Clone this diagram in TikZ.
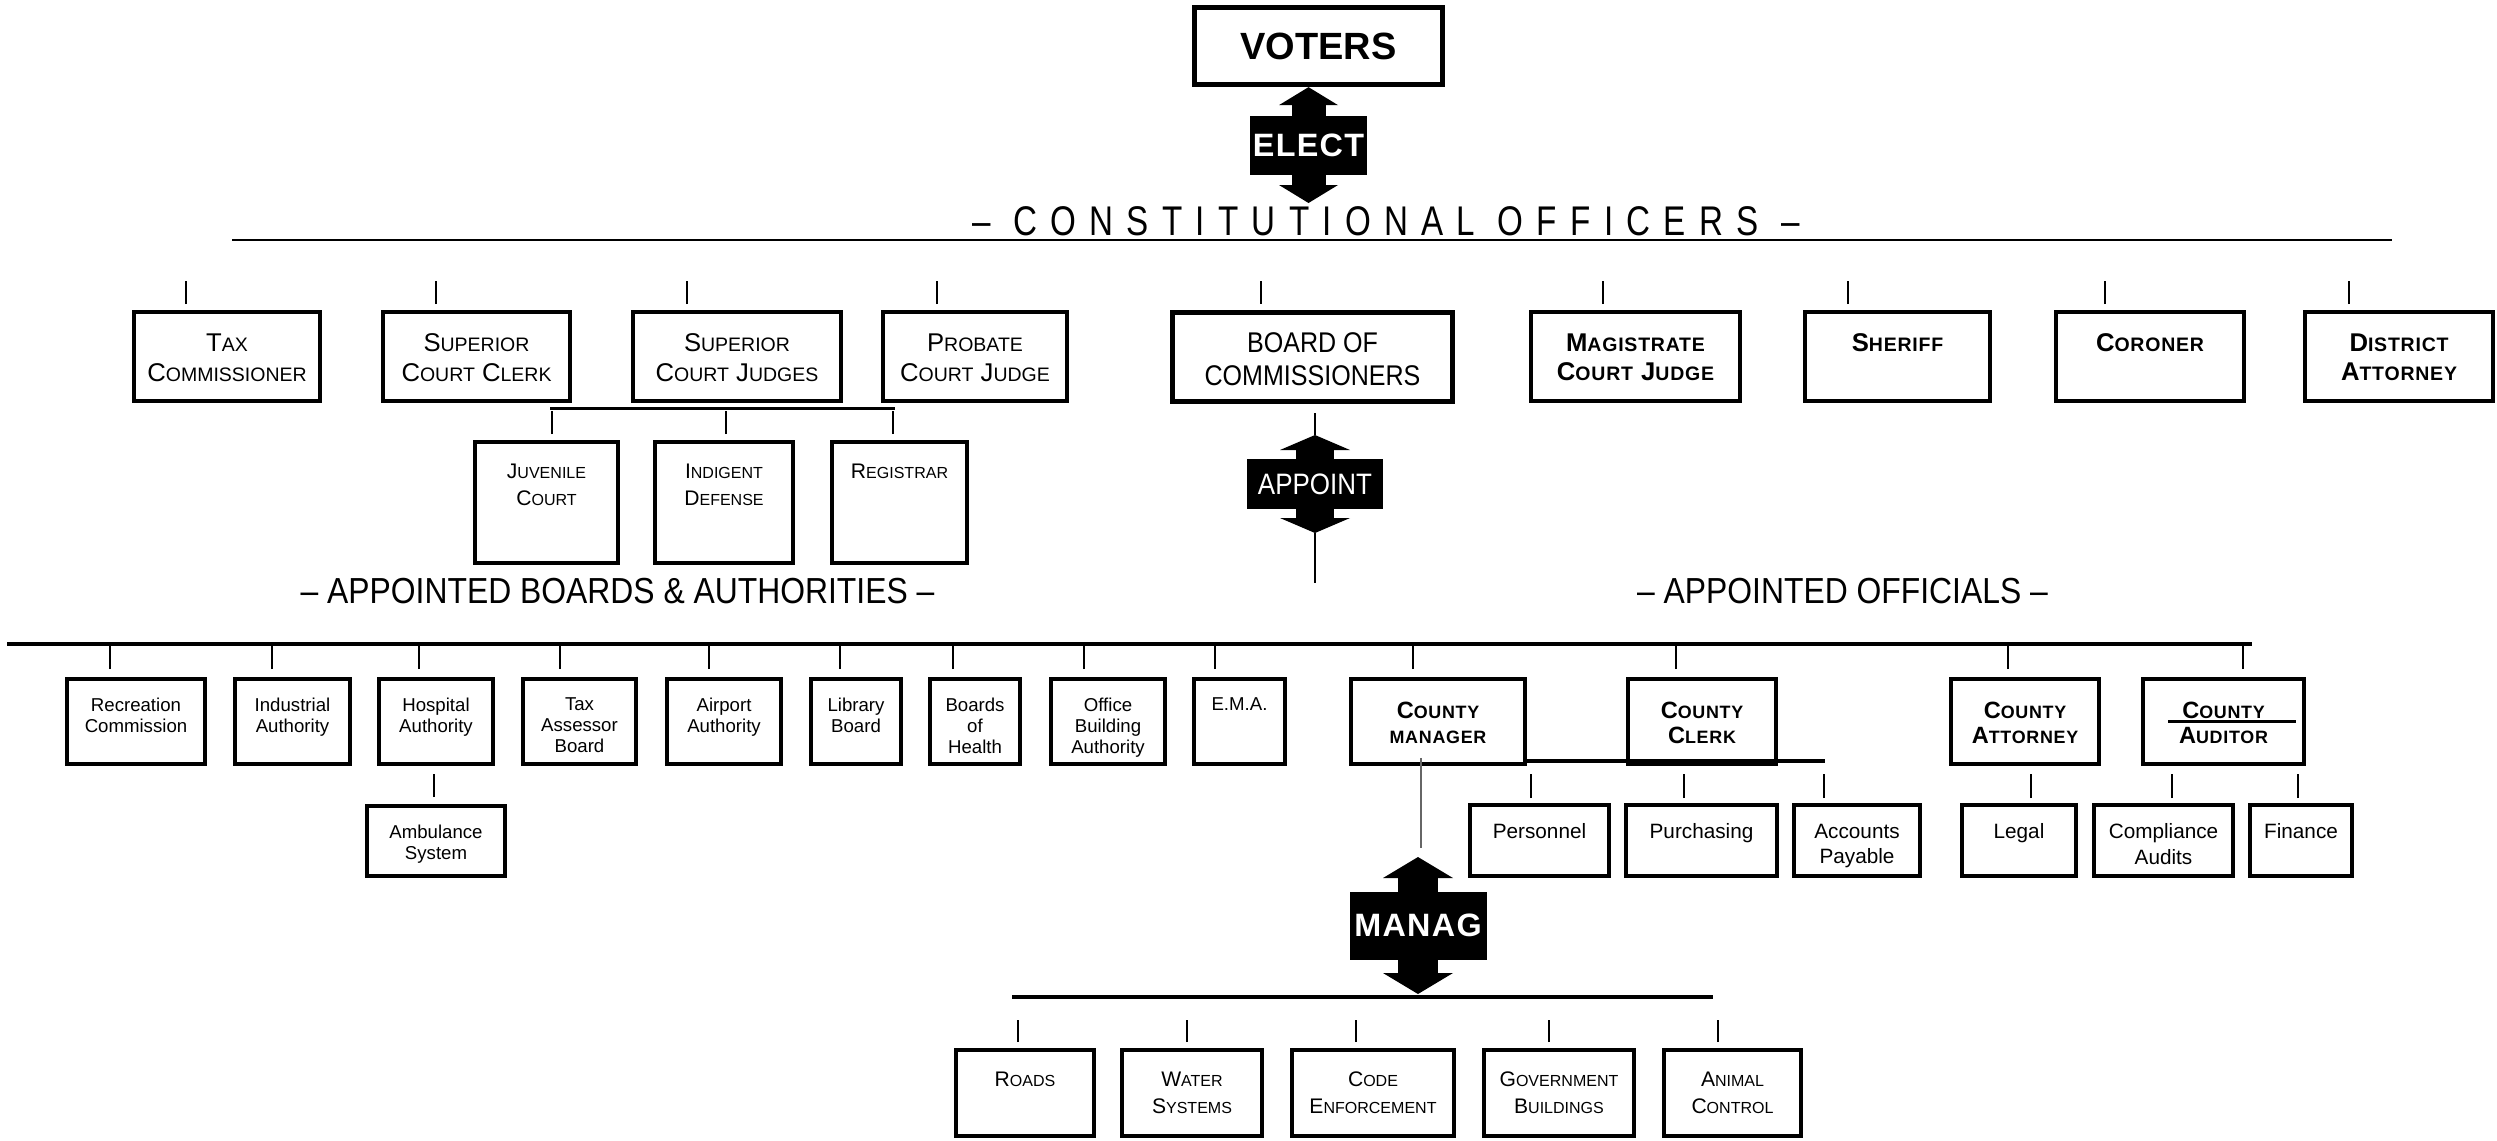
\documentclass[tikz,border=0pt]{standalone}
\usepackage{fontspec}
\setmainfont{Liberation Sans}
\newfontfamily\spacedfont{Liberation Sans}[FakeStretch=0.8,LetterSpace=32]
\newfontfamily\narrowfont{Liberation Sans}[FakeStretch=0.88]
\newfontfamily\headfont{Liberation Sans}[LetterSpace=4]
\usetikzlibrary{arrows.meta}
\makeatletter
\newcommand\smc[1]{{\fontsize{\fpeval{0.76*\f@size}}{\f@baselineskip}\selectfont #1}}
\makeatother

\begin{document}
\begin{tikzpicture}[
    every node/.style={inner sep=0pt},
    bus/.style={line width=1.1pt},
    tick/.style={line width=0.6pt},
    link/.style={line width=0.6pt},
    dbl/.style n args={3}{line width=#1, <->, >={Triangle[width=#2,length=#3,line width=0pt]}},
    votebox/.style={draw, line width=1.5pt, minimum width=2.48cm, minimum height=0.77cm, font=\bfseries\fontsize{10.8}{12}\selectfont},
    actbox/.style={fill=black, text=white, font=\headfont\bfseries\fontsize{9.2}{11}\selectfont},
    apptbox/.style={fill=black, text=white, font=\narrowfont\fontsize{8.4}{10}\selectfont},
    contitle/.style={anchor=base, font=\spacedfont\fontsize{11.8}{13}\selectfont},
    apptitle/.style={anchor=base, font=\narrowfont\fontsize{10.3}{12}\selectfont},
    % boxes, text hung from the top edge
    offbox/.style 2 args={draw, line width=1.1pt, minimum height=0.89cm, label={[#1]north:#2}},
    subbox/.style 2 args={draw, line width=1.1pt, minimum height=1.21cm, label={[#1]north:#2}},
    brdbox/.style 2 args={draw, line width=1.1pt, minimum height=0.85cm, label={[#1]north:#2}},
    depbox/.style 2 args={draw, line width=1.1pt, minimum height=0.71cm, label={[#1]north:#2}},
    svcbox/.style 2 args={draw, line width=1.1pt, minimum height=0.86cm, label={[#1]north:#2}},
    txt/.style={anchor=north, align=center},
    offtxt/.style={txt, yshift=-0.23cm, font=\fontsize{7.3}{8.6}\selectfont},
    brdtxt/.style={txt, yshift=-0.22cm, font=\narrowfont\fontsize{8.1}{9.4}\selectfont},
    boldtxt/.style={txt, yshift=-0.23cm, font=\headfont\bfseries\fontsize{7.3}{8.25}\selectfont},
    subtxt/.style={txt, yshift=-0.23cm, font=\fontsize{6}{7.7}\selectfont},
    plntxt/.style={txt, yshift=-0.20cm, font=\fontsize{5.3}{6}\selectfont},
    cntytxt/.style={txt, yshift=-0.24cm, font=\headfont\bfseries\fontsize{6.7}{7.1}\selectfont},
    deptxt/.style={txt, yshift=-0.20cm, font=\fontsize{5.9}{7.2}\selectfont}
  ]
  \useasboundingbox (0,0) rectangle (24.97,-11.40);

  % voters elect the constitutional officers
  \node[votebox] (voters) at (13.185,-0.46) {VOTERS};
  \coordinate (electend) at (13.085,-2.03);
  \draw[dbl={0.34cm}{0.59cm}{0.18cm}] (voters.south -| electend) -- node[actbox, minimum width=1.17cm, minimum height=0.59cm] (elect) {ELECT} (electend);

  \node[contitle] (contitle) at (13.86,-2.35) {– CONSTITUTIONAL OFFICERS –};
  \coordinate (conL) at (2.32,-2.40);
  \coordinate (conR) at (23.92,-2.40);
  \draw[bus, line width=0.85pt] (conL) -- (conR);

  \node[offbox={offtxt}{T\smc{AX}\\C\smc{OMMISSIONER}}, minimum width=1.86cm] (tax) at (2.27,-3.565) {};
  \node[offbox={offtxt}{S\smc{UPERIOR}\\C\smc{OURT} C\smc{LERK}}, minimum width=1.87cm] (clerk) at (4.765,-3.565) {};
  \node[offbox={offtxt}{S\smc{UPERIOR}\\C\smc{OURT} J\smc{UDGES}}, minimum width=2.08cm] (judges) at (7.37,-3.565) {};
  \node[offbox={offtxt}{P\smc{ROBATE}\\C\smc{OURT} J\smc{UDGE}}, minimum width=1.84cm] (probate) at (9.75,-3.565) {};
  \node[offbox={brdtxt}{BOARD OF\\COMMISSIONERS}, minimum width=2.80cm, line width=1.5pt] (board) at (13.125,-3.57) {};
  \node[offbox={boldtxt}{M\smc{AGISTRATE}\\C\smc{OURT} J\smc{UDGE}}, minimum width=2.09cm] (magis) at (16.355,-3.565) {};
  \node[offbox={boldtxt}{S\smc{HERIFF}}, minimum width=1.85cm] (sheriff) at (18.975,-3.565) {};
  \node[offbox={boldtxt}{C\smc{ORONER}}, minimum width=1.88cm] (coroner) at (21.50,-3.565) {};
  \node[offbox={boldtxt}{D\smc{ISTRICT}\\A\smc{TTORNEY}}, minimum width=1.88cm] (da) at (23.99,-3.565) {};
  \foreach \n/\dx in {tax/-0.41, clerk/-0.405, judges/-0.50, probate/-0.38, board/-0.515, magis/-0.325, sheriff/-0.495, coroner/-0.45, da/-0.50}
    \draw[tick] ([xshift=\dx cm, yshift=0.06cm]\n.north) -- ++(0,0.23);

  % under the judges
  \coordinate (judL) at (5.50,-4.085);
  \coordinate (judR) at (8.95,-4.085);
  \draw[bus, line width=0.7pt] (judL) -- (judR);
  \node[subbox={subtxt}{J\smc{UVENILE}\\C\smc{OURT}}, minimum width=1.43cm] (juvenile) at (5.465,-5.025) {};
  \node[subbox={subtxt}{I\smc{NDIGENT}\\D\smc{EFENSE}}, minimum width=1.38cm] (indigent) at (7.24,-5.025) {};
  \node[subbox={subtxt}{R\smc{EGISTRAR}}, minimum width=1.35cm] (registrar) at (8.995,-5.025) {};
  \foreach \n/\dx in {juvenile/0.055, indigent/0.02, registrar/-0.065}
    \draw[tick] ([xshift=\dx cm, yshift=0.06cm]\n.north) -- ++(0,0.23);

  % board appoints
  \coordinate (apptop) at (13.15,-4.13);
  \coordinate (appin) at (13.15,-4.35);
  \coordinate (appout) at (13.15,-5.33);
  \coordinate (append) at (13.15,-5.83);
  \draw[link] (apptop) -- (appin);
  \draw[dbl={0.38cm}{0.70cm}{0.15cm}] (appin) -- node[apptbox, minimum width=1.36cm, minimum height=0.50cm] (appoint) {APPOINT} (appout);
  \draw[link] (appout) -- (append);

  \node[apptitle] (boardtitle) at (6.175,-6.03) {– APPOINTED BOARDS \& AUTHORITIES –};
  \node[apptitle] (offtitle) at (18.425,-6.03) {– APPOINTED OFFICIALS –};
  \coordinate (appL) at (0.07,-6.44);
  \coordinate (appR) at (22.52,-6.44);
  \draw[bus] (appL) -- (appR);

  % boards and authorities
  \node[brdbox={plntxt}{Recreation\\Commission}, minimum width=1.38cm] (recreation) at (1.36,-7.215) {};
  \node[brdbox={plntxt}{Industrial\\Authority}, minimum width=1.15cm] (industrial) at (2.925,-7.215) {};
  \node[brdbox={plntxt}{Hospital\\Authority}, minimum width=1.14cm] (hospital) at (4.36,-7.215) {};
  \node[brdbox={plntxt}{Tax\\Assessor\\Board}, minimum width=1.13cm] (assessor) at (5.795,-7.215) {};
  \node[brdbox={plntxt}{Airport\\Authority}, minimum width=1.14cm] (airport) at (7.24,-7.215) {};
  \node[brdbox={plntxt}{Library\\Board}, minimum width=0.90cm] (library) at (8.56,-7.215) {};
  \node[brdbox={plntxt}{Boards\\of\\Health}, minimum width=0.90cm] (health) at (9.75,-7.215) {};
  \node[brdbox={plntxt}{Office\\Building\\Authority}, minimum width=1.14cm] (office) at (11.08,-7.215) {};
  \node[brdbox={plntxt}{E.M.A.}, minimum width=0.91cm] (ema) at (12.395,-7.215) {};
  \node[depbox={plntxt}{Ambulance\\System}, minimum height=0.70cm, minimum width=1.38cm] (ambulance) at (4.36,-8.41) {};
  \draw[tick] ([xshift=-0.02cm, yshift=0.07cm]ambulance.north) -- ++(0,0.23);

  % appointed officials
  \node[brdbox={cntytxt}{C\smc{OUNTY}\\\smc{MANAGER}}, minimum width=1.74cm] (manager) at (14.38,-7.215) {};
  \node[brdbox={cntytxt}{C\smc{OUNTY}\\C\smc{LERK}}, minimum width=1.48cm] (cclerk) at (17.02,-7.215) {};
  \node[brdbox={cntytxt}{C\smc{OUNTY}\\A\smc{TTORNEY}}, minimum width=1.48cm] (attorney) at (20.25,-7.215) {};
  \node[brdbox={cntytxt}{C\smc{OUNTY}\\A\smc{UDITOR}}, minimum width=1.61cm] (auditor) at (22.235,-7.215) {};
  \draw[line width=0.6pt] ([xshift=-0.555cm]auditor.center) -- ([xshift=0.725cm]auditor.center);
  \foreach \n/\dx in {recreation/-0.26, industrial/-0.205, hospital/-0.17, assessor/-0.195, airport/-0.15, library/-0.16, health/-0.22, office/-0.24, ema/-0.245, manager/-0.25, cclerk/-0.26, attorney/-0.17, auditor/0.195}
    \draw[tick] ([xshift=\dx cm, yshift=0.08cm]\n.north) -- ++(0,0.23);

  \coordinate (mgrL) at (15.27,-7.61);
  \coordinate (mgrR) at (18.25,-7.61);
  \draw[bus] (mgrL) -- (mgrR);
  \node[depbox={deptxt}{Personnel}, minimum width=1.39cm] (personnel) at (15.395,-8.405) {};
  \node[depbox={deptxt}{Purchasing}, minimum width=1.51cm] (purchasing) at (17.015,-8.405) {};
  \node[depbox={deptxt}{Accounts\\Payable}, minimum width=1.26cm] (payable) at (18.57,-8.405) {};
  \node[depbox={deptxt}{Legal}, minimum width=1.14cm] (legal) at (20.19,-8.405) {};
  \node[depbox={deptxt}{Compliance\\Audits}, minimum width=1.39cm] (audits) at (21.635,-8.405) {};
  \node[depbox={deptxt}{Finance}, minimum width=1.02cm] (finance) at (23.01,-8.405) {};
  \foreach \n/\dx in {personnel/-0.085, purchasing/-0.175, payable/-0.33, legal/0.12, audits/0.085, finance/-0.03}
    \draw[tick] ([xshift=\dx cm, yshift=0.05cm]\n.north) -- ++(0,0.24);

  % county manager manages
  \coordinate (mgfoot) at (14.21,-8.48);
  \draw[link, line width=0.4pt, black!60] ([xshift=-0.17cm, yshift=0.08cm]manager.south) -- (mgfoot);
  \coordinate (mgtop) at (14.18,-8.57);
  \coordinate (mgbot) at (14.18,-9.94);
  \draw[dbl={0.40cm}{0.70cm}{0.21cm}] (mgtop) -- node[actbox, minimum width=1.37cm, minimum height=0.68cm] (manag) {MANAG} (mgbot);
  \coordinate (svcL) at (10.12,-9.97);
  \coordinate (svcR) at (17.13,-9.97);
  \draw[bus] (svcL) -- (svcR);

  \node[svcbox={subtxt}{R\smc{OADS}}, minimum width=1.38cm] (roads) at (10.25,-10.93) {};
  \node[svcbox={subtxt}{W\smc{ATER}\\S\smc{YSTEMS}}, minimum width=1.40cm] (water) at (11.92,-10.93) {};
  \node[svcbox={subtxt}{C\smc{ODE}\\E\smc{NFORCEMENT}}, minimum width=1.62cm] (code) at (13.73,-10.93) {};
  \node[svcbox={subtxt}{G\smc{OVERNMENT}\\B\smc{UILDINGS}}, minimum width=1.50cm] (buildings) at (15.59,-10.93) {};
  \node[svcbox={subtxt}{A\smc{NIMAL}\\C\smc{ONTROL}}, minimum width=1.37cm] (animal) at (17.325,-10.93) {};
  \foreach \n/\dx in {roads/-0.07, water/-0.05, code/-0.17, buildings/-0.10, animal/-0.145}
    \draw[tick] ([xshift=\dx cm, yshift=0.06cm]\n.north) -- ++(0,0.22);
\end{tikzpicture}
\end{document}
